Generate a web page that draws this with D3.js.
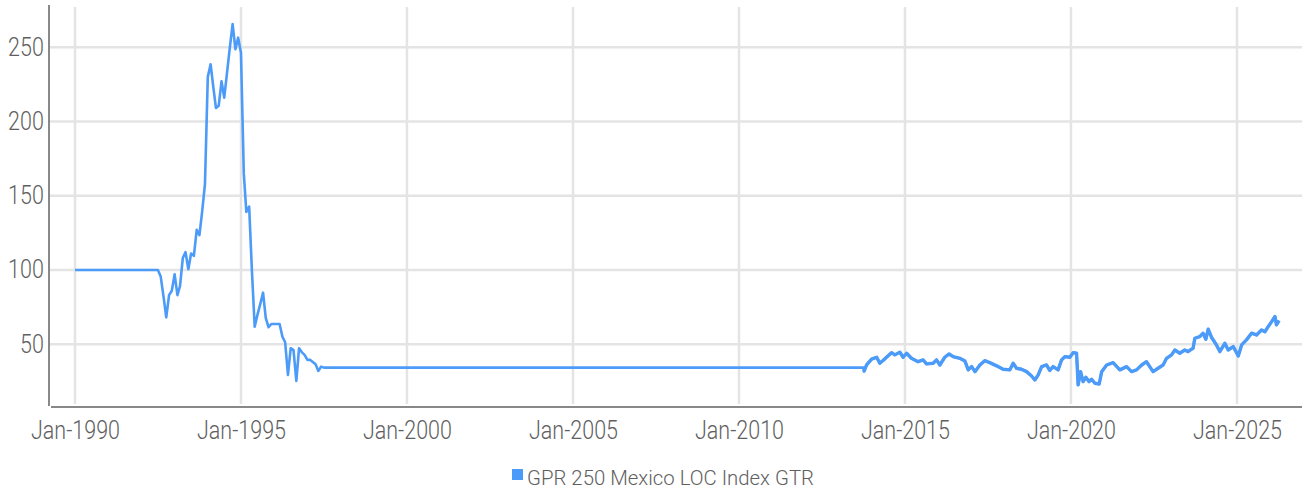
<!DOCTYPE html>
<html>
<head>
<meta charset="utf-8">
<script src="https://cdn.jsdelivr.net/npm/d3@7"></script>
<style>
  html, body { margin: 0; padding: 0; background: #fff; }
  svg text { font-family: Roboto, "Open Sans", sans-serif; font-weight: 300; fill: #606060; }
</style>
</head>
<body>
<div id="chart"></div>
<script>
// monthly index values, Jan-1990 onwards
var monthlyValues = [
  100, 100, 100, 100, 100, 100, 100, 100, 100, 100, 100, 100,
  100, 100, 100, 100, 100, 100, 100, 100, 100, 100, 100, 100,
  100, 100, 100, 100, 100, 100, 100, 95.5, 82, 68, 83, 86,
  97, 83, 89, 108, 112, 100.5, 111, 109.5, 127, 123.5, 140, 158,
  230, 238.5, 224, 209, 210.5, 227, 216, 233, 250, 265.5, 248.6, 256.4,
  246.3, 165, 139, 142.6, 100, 61.8, 69.7, 77, 84.7, 67.5, 61.4, 63.6,
  63.6, 63.6, 63.6, 55, 51.3, 29.3, 47.3, 46, 25.3, 47.3, 44.5, 42.8,
  39.4, 39.4, 38, 36.5, 32, 34.9, 34.2
];

// later observations (flat until Oct-2013, then market data)
var recentDates = [
  '2013-10-01', '2013-10-06', '2013-11-05', '2013-12-30', '2014-02-24', '2014-03-30', '2014-05-05',
  '2014-06-12', '2014-08-06', '2014-09-12', '2014-11-06', '2014-12-12', '2015-01-19',
  '2015-03-13', '2015-05-25', '2015-07-19', '2015-08-26', '2015-11-07', '2015-12-14',
  '2016-01-20', '2016-03-14', '2016-05-01', '2016-06-14', '2016-08-27', '2016-10-21',
  '2016-11-27', '2017-01-04', '2017-02-09', '2017-04-04', '2017-05-28', '2017-07-22',
  '2017-10-05', '2017-12-16', '2018-02-28', '2018-04-05', '2018-05-12', '2018-07-06',
  '2018-08-31', '2018-10-25', '2018-11-30', '2019-01-06', '2019-02-13', '2019-04-07',
  '2019-05-13', '2019-06-19', '2019-08-13', '2019-09-20', '2019-10-26', '2019-12-20',
  '2020-01-26', '2020-03-03', '2020-03-20', '2020-04-16', '2020-05-14', '2020-06-13',
  '2020-07-19', '2020-08-15', '2020-09-21', '2020-11-07', '2020-12-04', '2021-01-28',
  '2021-04-09', '2021-06-22', '2021-09-04', '2021-10-29', '2021-12-23', '2022-02-17',
  '2022-04-11', '2022-05-17', '2022-06-23', '2022-08-17', '2022-10-11', '2022-11-18',
  '2023-01-12', '2023-02-18', '2023-04-12', '2023-06-06', '2023-07-12', '2023-09-06',
  '2023-09-25', '2023-11-19', '2023-12-25', '2024-01-24', '2024-02-19', '2024-03-26',
  '2024-05-20', '2024-06-26', '2024-08-20', '2024-09-26', '2024-11-20', '2025-01-15',
  '2025-02-21', '2025-04-15', '2025-06-10', '2025-08-04', '2025-09-28', '2025-11-04',
  '2025-12-10', '2026-01-17', '2026-02-23', '2026-03-11', '2026-04-09'
];
var recentValues = [
  34.2, 31.5, 36, 39.9, 41.2, 37.2, 39,
  41.2, 44.3, 42.8, 44.6, 41.2, 43.9,
  40.5, 38.2, 39.4, 36.7, 37.2, 39.4,
  36, 41.2, 43.4, 41.6, 40.5, 38.7,
  32.7, 34.9, 31.5, 36, 38.9, 37.6,
  35.4, 33.1, 32.7, 37.2, 33.8, 33.1,
  31.5, 28.6, 25.9, 29.3, 34.9, 36,
  32.3, 34.9, 32.7, 39.4, 41.6, 41.2,
  44.3, 43.9, 22.6, 31.5, 24.8, 27.7,
  24.8, 26.4, 23.7, 23.2, 31.5, 36,
  37.6, 32.7, 34.9, 31.5, 32.7, 36,
  38.2, 34.9, 31.5, 33.8, 36, 40.5,
  42.8, 46.1, 43.9, 46.1, 45, 47.3,
  54, 55.1, 57.4, 53.3, 60.1, 54.7,
  49.5, 45, 50.6, 46.1, 48.4, 42.1,
  49.5, 52.9, 57.4, 56.2, 59.6, 58.4,
  61.8, 65.2, 68.6, 63, 65.9
];

var yTicks = [50, 100, 150, 200, 250];
var xTickYears = [1990, 1995, 2000, 2005, 2010, 2015, 2020, 2025];
var seriesName = 'GPR 250 Mexico LOC Index GTR';

(function () {
  'use strict';

  var width = 1302, height = 491;
  var left = 50, right = 1302, top = 5, bottom = 407;
  var parse = d3.timeParse('%Y-%m-%d');
  var start = new Date(1990, 0, 1);

  var early = monthlyValues.map(function (v, i) {
    return { date: d3.timeMonth.offset(start, i), value: v };
  });
  var recent = recentDates.map(function (d, i) {
    return { date: parse(d), value: recentValues[i] };
  });
  var data = early.concat(recent);

  var svg = d3.select('#chart').append('svg')
    .attr('width', width).attr('height', height);

  var x = d3.scaleTime()
    .domain([new Date(1990, 0, 1), new Date(2025, 0, 1)])
    .range([75, 1237]);
  var y = d3.scaleLinear().domain([7.7, 278.4]).range([bottom, top]);

  /*====================================
  Grid
  ======================================*/
  svg.append('g').selectAll('line').data(yTicks).enter().append('line')
    .attr('x1', left).attr('x2', right)
    .attr('y1', function (d) { return y(d); })
    .attr('y2', function (d) { return y(d); })
    .attr('stroke', '#e4e4e4').attr('stroke-width', 2.5);

  var xTicks = xTickYears.map(function (yr) { return new Date(yr, 0, 1); });
  svg.append('g').selectAll('line').data(xTicks).enter().append('line')
    .attr('x1', function (d) { return x(d); })
    .attr('x2', function (d) { return x(d); })
    .attr('y1', 7).attr('y2', 404)
    .attr('stroke', '#e4e4e4').attr('stroke-width', 2.5);

  /*====================================
  Axes
  ======================================*/
  var yAxis = svg.append('g')
    .attr('transform', 'translate(' + (left - 1) + ',0)')
    .call(d3.axisLeft(y).tickValues(yTicks).tickSize(0).tickPadding(6));
  yAxis.select('.domain').remove();
  yAxis.append('line')
    .attr('x1', 0).attr('x2', 0).attr('y1', top).attr('y2', bottom - 1)
    .attr('stroke', '#888').attr('stroke-width', 2);
  yAxis.selectAll('text')
    .attr('font-size', 25)
    .attr('transform', 'scale(0.86,1)');

  var xAxis = svg.append('g')
    .attr('transform', 'translate(0,' + bottom + ')')
    .call(d3.axisBottom(x).tickValues(xTicks)
      .tickFormat(d3.timeFormat('%b-%Y')).tickSize(0).tickPadding(14));
  xAxis.select('.domain').remove();
  xAxis.append('line')
    .attr('x1', left + 1).attr('x2', right).attr('y1', 0).attr('y2', 0)
    .attr('stroke', '#888').attr('stroke-width', 2);
  xAxis.selectAll('text')
    .attr('font-size', 25)
    .attr('transform', 'scale(0.86,1)');
  svg.selectAll('.tick text').attr('fill', '#606060').style('font-family', 'Roboto');

  /*====================================
  Line
  ======================================*/
  var line = d3.line()
    .x(function (d) { return x(d.date); })
    .y(function (d) { return y(d.value); });

  svg.append('path')
    .datum(data)
    .attr('d', line)
    .attr('fill', 'none')
    .attr('stroke', '#4c9bf8')
    .attr('stroke-width', 2.6)
    .attr('stroke-linejoin', 'round');

  // daily section reads heavier in the original
  svg.append('path')
    .datum(recent.slice(1))
    .attr('d', line)
    .attr('fill', 'none')
    .attr('stroke', '#4c9bf8')
    .attr('stroke-width', 3.4)
    .attr('stroke-linejoin', 'round');

  /*====================================
  Legend
  ======================================*/
  var legend = svg.append('g').attr('transform', 'translate(512,469)');
  legend.append('rect')
    .attr('width', 11).attr('height', 11)
    .attr('fill', '#4c9bf8');
  legend.append('text')
    .attr('x', 15).attr('y', 16)
    .attr('font-size', 21)
    .attr('textLength', 287)
    .attr('lengthAdjust', 'spacingAndGlyphs')
    .text(seriesName);
}());
</script>
</body>
</html>
